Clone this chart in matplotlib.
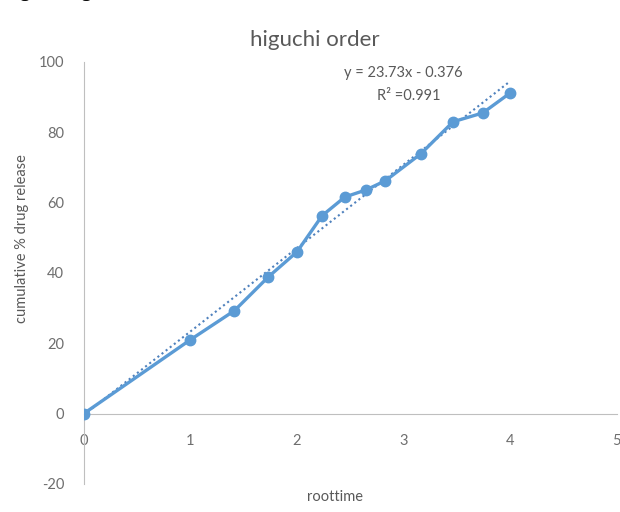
import matplotlib.pyplot as plt
import numpy as np

plt.rcParams['font.family'] = ['Lato', 'DejaVu Sans']
plt.rcParams['axes.unicode_minus'] = False

# root time vs cumulative % drug release
root_time = [0, 1, 1.414, 1.732, 2, 2.236, 2.449, 2.646, 2.828, 3.162, 3.464, 3.742, 4]
release = [0, 21.0, 29.3, 38.9, 46.0, 56.3, 61.6, 63.6, 66.2, 73.9, 83.0, 85.5, 91.2]

# linear trendline reported on the chart
slope = 23.73
intercept = -0.376
r2 = 0.991

x_ticks = [0, 1, 2, 3, 4, 5]
y_ticks = [-20, 0, 20, 40, 60, 80, 100]

blue = '#5B9BD5'
grey_txt = '#595959'
tick_grey = '#6E6E6E'
axis_grey = '#BFBFBF'

fig = plt.figure(figsize=(6.2, 5.12), dpi=100)
ax = fig.add_axes([0.135, 0.0547, 0.86, 0.8243])

# trendline (dotted)
tx = np.array([0, 4])
ax.plot(tx, slope * tx + intercept, linestyle=(0, (1, 1.5)), color='#4F81BD', lw=1.5, zorder=2)

# data series
ax.plot(root_time, release, color=blue, lw=2.4, marker='o', ms=7.5, zorder=3)

ax.set_xlim(0, 5)
ax.set_ylim(-20, 100)
ax.set_xticks(x_ticks)
ax.set_yticks(y_ticks)

for s in ['top', 'right']:
    ax.spines[s].set_visible(False)
ax.spines['bottom'].set_position(('data', 0))
ax.spines['bottom'].set_color(axis_grey)
ax.spines['left'].set_color(axis_grey)
ax.tick_params(length=0, colors=tick_grey, labelsize=10.5)
ax.tick_params(axis='x', pad=15)
ax.tick_params(axis='y', pad=14)

ax.text(3.0, 96.9, 'y = 23.73x - 0.376', ha='center', va='center', color=grey_txt, fontsize=10.5)
ax.text(3.05, 90.2, 'R² =%.3f' % r2, ha='center', va='center', color=grey_txt, fontsize=10.5)

fig.text(0.508, 0.922, 'higuchi order', ha='center', va='center', color=grey_txt, fontsize=16)
fig.text(0.035, 0.535, 'cumulative % drug release', rotation=90, ha='center', va='center',
         color=grey_txt, fontsize=10.5)
fig.text(0.54, 0.029, 'roottime', ha='center', va='center', color=grey_txt, fontsize=10.5)

# clipped caption at top edge
fig.text(0.005, 1.006, 'Fig. 7: Higuchi release kinetics', ha='left', va='baseline',
         fontsize=14, fontweight='bold', color='black', family='Liberation Serif')

fig.savefig('out.png', dpi=100)
